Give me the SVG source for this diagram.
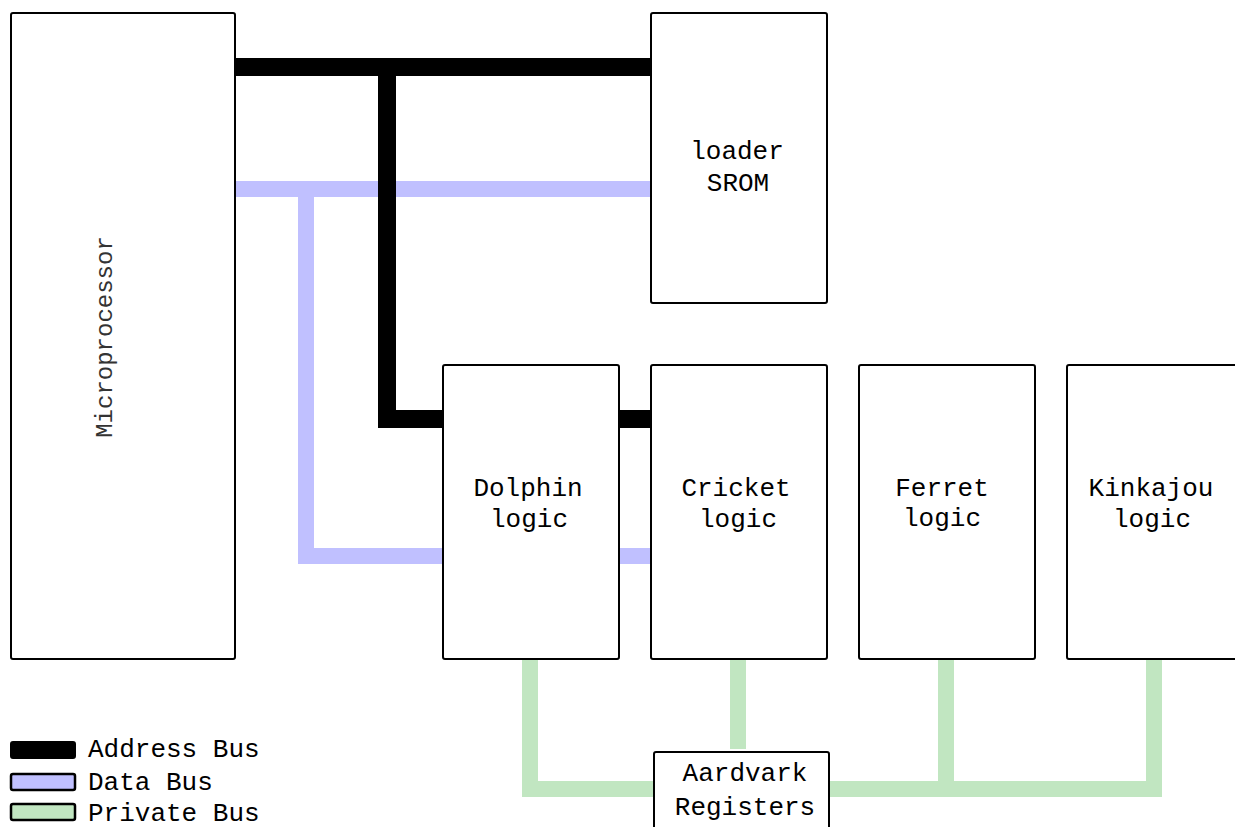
<svg xmlns="http://www.w3.org/2000/svg" width="1235" height="827" viewBox="0 0 1235 827">
<style>
.box{fill:#fff;stroke:#000;stroke-width:2}
.t{font-family:"Liberation Mono","Courier New",monospace;font-size:26px;fill:#000;text-anchor:middle}
.lg{font-family:"Liberation Mono","Courier New",monospace;font-size:26px;fill:#000}
.addr{fill:none;stroke:#000;stroke-width:18;stroke-linejoin:miter;stroke-linecap:butt}
.data{fill:none;stroke:#c0c0ff;stroke-width:16;stroke-linejoin:miter;stroke-linecap:butt}
.priv{fill:none;stroke:#c1e6c1;stroke-width:16;stroke-linejoin:miter;stroke-linecap:butt}
</style>
<rect width="1235" height="827" fill="#fff"/>
<g id="connectors">
<path class="data" d="M235,189 H651 M306,189 V556 H651"/>
<path class="addr" d="M235,67 H651 M387,67 V419 H443 M619,419 H651"/>
<path class="priv" d="M530,659 V789 H654 M738,659 V749 M829,789 H1154 V659 M946,659 V789"/>
</g>
<g id="microprocessor">
<rect class="box" x="11" y="13" width="224" height="646" rx="2"/>
<text class="t" transform="translate(112,337) rotate(-90)" style="font-size:24px;fill:#333">Microprocessor</text>
</g>
<g id="loader">
<rect class="box" x="651" y="13" width="176" height="290" rx="2"/>
<text class="t" x="737" y="159">loader</text>
<text class="t" x="738" y="191">SROM</text>
</g>
<g id="dolphin">
<rect class="box" x="443" y="365" width="176" height="294" rx="2"/>
<text class="t" x="528" y="496">Dolphin</text>
<text class="t" x="529" y="527">logic</text>
</g>
<g id="cricket">
<rect class="box" x="651" y="365" width="176" height="294" rx="2"/>
<text class="t" x="736" y="496">Cricket</text>
<text class="t" x="738" y="527">logic</text>
</g>
<g id="ferret">
<rect class="box" x="859" y="365" width="176" height="294" rx="2"/>
<text class="t" x="942" y="496">Ferret</text>
<text class="t" x="942" y="526">logic</text>
</g>
<g id="kinkajou">
<rect class="box" x="1067" y="365" width="190" height="294" rx="2"/>
<text class="t" x="1151" y="496">Kinkajou</text>
<text class="t" x="1152" y="527">logic</text>
</g>
<g id="aardvark">
<rect class="box" x="654" y="752" width="175" height="90" rx="2"/>
<text class="t" x="745" y="781">Aardvark</text>
<text class="t" x="745" y="815">Registers</text>
</g>
<g id="legend">
<rect x="11" y="742" width="64" height="16" rx="2" fill="#000" stroke="#000" stroke-width="2"/>
<rect x="11" y="774" width="64" height="16" rx="2" fill="#c0c0ff" stroke="#000" stroke-width="2.5"/>
<rect x="11" y="804" width="64" height="16" rx="2" fill="#c1e6c1" stroke="#000" stroke-width="2.5"/>
<text class="lg" x="88" y="757">Address Bus</text>
<text class="lg" x="88" y="790">Data Bus</text>
<text class="lg" x="88" y="821">Private Bus</text>
</g>
</svg>
